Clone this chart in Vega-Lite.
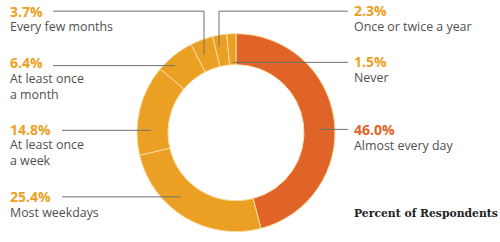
{
  "$schema": "https://vega.github.io/schema/vega-lite/v6.json",
  "width": 500,
  "height": 242,
  "padding": 0,
  "autosize": {"type": "none"},
  "background": "white",
  "config": {"view": {"stroke": null}},
  "datasets": {
    "slices": [
      {"category": "Almost every day", "value": 46.0, "order": 1},
      {"category": "Most weekdays", "value": 25.4, "order": 2},
      {"category": "At least once a week", "value": 14.8, "order": 3},
      {"category": "At least once a month", "value": 6.4, "order": 4},
      {"category": "Every few months", "value": 3.7, "order": 5},
      {"category": "Once or twice a year", "value": 2.3, "order": 6},
      {"category": "Never", "value": 1.5, "order": 7}
    ],
    "labels": [
      {"category": "Every few months", "pct": "3.7%", "desc": "Every few months", "lx": 10, "py": 18, "dy": 33.5},
      {"category": "At least once a month", "pct": "6.4%", "desc": "At least once\na month", "lx": 10, "py": 73, "dy": 89},
      {"category": "At least once a week", "pct": "14.8%", "desc": "At least once\na week", "lx": 10, "py": 145, "dy": 160.5},
      {"category": "Most weekdays", "pct": "25.4%", "desc": "Most weekdays", "lx": 10, "py": 217, "dy": 233.5},
      {"category": "Once or twice a year", "pct": "2.3%", "desc": "Once or twice a year", "lx": 354, "py": 17, "dy": 33.5},
      {"category": "Never", "pct": "1.5%", "desc": "Never", "lx": 354, "py": 72, "dy": 88.5},
      {"category": "Almost every day", "pct": "46.0%", "desc": "Almost every day", "lx": 354, "py": 145, "dy": 161.5}
    ],
    "leaders": [
      {"x": 53, "y": 12, "x2": 204, "y2": 12},
      {"x": 204, "y": 12, "x2": 204, "y2": 59},
      {"x": 219, "y": 12, "x2": 348, "y2": 12},
      {"x": 219, "y": 12, "x2": 219, "y2": 50},
      {"x": 233, "y": 67, "x2": 348, "y2": 67},
      {"x": 53, "y": 70.5, "x2": 175, "y2": 70.5},
      {"x": 62, "y": 140, "x2": 151, "y2": 140},
      {"x": 62, "y": 211.5, "x2": 181, "y2": 211.5},
      {"x": 319, "y": 139, "x2": 348, "y2": 139}
    ],
    "title": [
      {"text": "Percent of Respondents", "x": 354, "y": 233}
    ]
  },
  "layer": [
    {
      "data": {"name": "slices"},
      "mark": {"type": "arc", "outerRadius": 99, "innerRadius": 68, "stroke": "#f8dca4", "strokeWidth": 1},
      "encoding": {
        "x": {"datum": 236, "type": "quantitative", "scale": {"domain": [0, 500]}, "axis": null},
        "y": {"datum": 142.5, "type": "quantitative", "scale": {"domain": [0, 242], "reverse": true}, "axis": null},
        "theta": {"field": "value", "type": "quantitative", "stack": true},
        "order": {"field": "order", "type": "quantitative"},
        "color": {
          "field": "category",
          "type": "nominal",
          "scale": {
            "domain": ["Almost every day", "Most weekdays", "At least once a week", "At least once a month", "Every few months", "Once or twice a year", "Never"],
            "range": ["#e06327", "#eca023", "#eca023", "#eca023", "#eca023", "#eca023", "#eca023"]
          },
          "legend": null
        }
      }
    },
    {
      "data": {"name": "leaders"},
      "mark": {"type": "rule", "color": "#707070", "strokeWidth": 1},
      "encoding": {
        "x": {"field": "x", "type": "quantitative", "axis": null},
        "y": {"field": "y", "type": "quantitative", "axis": null},
        "x2": {"field": "x2"},
        "y2": {"field": "y2"}
      }
    },
    {
      "data": {"name": "labels"},
      "mark": {"type": "text", "align": "left", "baseline": "alphabetic", "font": "Open Sans", "fontSize": 14, "fontWeight": "bold"},
      "encoding": {
        "x": {"field": "lx", "type": "quantitative", "axis": null},
        "y": {"field": "py", "type": "quantitative", "axis": null},
        "text": {"field": "pct"},
        "color": {"field": "category", "type": "nominal", "legend": null}
      }
    },
    {
      "data": {"name": "labels"},
      "mark": {"type": "text", "align": "left", "baseline": "alphabetic", "font": "Open Sans", "fontSize": 12.4, "color": "#505050", "lineBreak": "\n", "lineHeight": 16},
      "encoding": {
        "x": {"field": "lx", "type": "quantitative", "axis": null},
        "y": {"field": "dy", "type": "quantitative", "axis": null},
        "text": {"field": "desc"}
      }
    },
    {
      "data": {"name": "title"},
      "mark": {"type": "text", "align": "left", "baseline": "alphabetic", "font": "DejaVu Serif", "fontSize": 10.8, "fontWeight": "bold", "color": "#222222"},
      "encoding": {
        "x": {"field": "x", "type": "quantitative", "axis": null},
        "y": {"field": "y", "type": "quantitative", "axis": null},
        "text": {"field": "text"}
      }
    }
  ]
}
